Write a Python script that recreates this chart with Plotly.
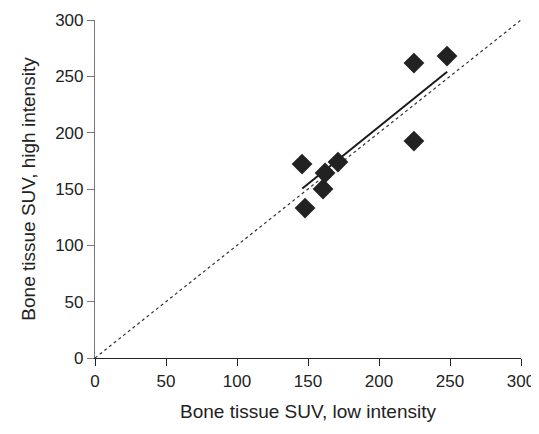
import plotly.graph_objects as go

low_intensity = [145.8, 147.9, 162.0, 160.6, 171.1, 224.6, 224.6, 247.9]
high_intensity = [172.1, 133.1, 164.2, 150.0, 173.9, 261.8, 192.5, 268.0]
trend_x = [146, 248]
trend_y = [150.5, 254]
identity = [0, 300]
tick_vals = [0, 50, 100, 150, 200, 250, 300]

fig = go.Figure()
fig.add_trace(go.Scatter(x=identity, y=identity, mode="lines",
                         line=dict(color="#333", width=1.2, dash="dot"), showlegend=False))
fig.add_trace(go.Scatter(x=trend_x, y=trend_y, mode="lines",
                         line=dict(color="#1a1a1a", width=2), showlegend=False))
fig.add_trace(go.Scatter(x=low_intensity, y=high_intensity, mode="markers",
                         marker=dict(symbol="diamond", size=16, color="#222"), showlegend=False))

fam = "Liberation Sans, Arial, sans-serif"
tick_font = dict(family=fam, size=17, color="#222")
title_font = dict(family=fam, size=19, color="#222")
# page body has an 8px default margin, so the figure is sized smaller to fit the window
fig.update_layout(
    width=531, height=414,
    margin=dict(l=87, r=18, t=12, b=64, autoexpand=False),
    plot_bgcolor="white", paper_bgcolor="white",
    font=dict(family=fam),
    xaxis=dict(range=[0, 300], tickvals=tick_vals, showgrid=False, zeroline=False,
               showline=True, linecolor="#222", linewidth=1.2, automargin=False,
               ticks="outside", ticklen=7, tickcolor="#222", tickfont=tick_font,
               ticklabeloverflow="allow",
               title=dict(text="Bone tissue SUV, low intensity", font=title_font, standoff=16)),
    yaxis=dict(range=[0, 300], tickvals=tick_vals, showgrid=False, zeroline=False,
               showline=True, linecolor="#777", linewidth=1.2, automargin=False,
               ticks="outside", ticklen=7, tickcolor="#777", tickfont=tick_font,
               ticklabeloverflow="allow",
               title=dict(text="Bone tissue SUV, high intensity", font=title_font, standoff=14)),
)
fig.write_html("out.html")
